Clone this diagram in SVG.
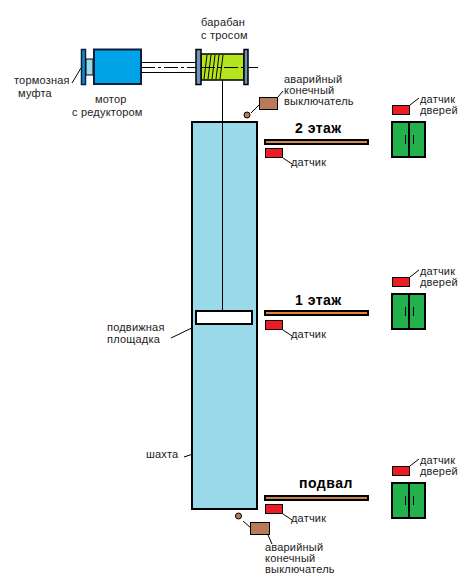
<svg xmlns="http://www.w3.org/2000/svg" width="473" height="588" viewBox="0 0 473 588">
<defs>
<style>
text{font-family:"Liberation Sans",Arial,sans-serif;font-size:11px;letter-spacing:.2px;fill:#222}
.h{font-size:14px;font-weight:bold;letter-spacing:.5px;fill:#000}
.k{stroke:#000;stroke-width:2}
.t{fill:none;stroke:#000;stroke-width:1}
.red{fill:#ed1c24;stroke:#000;stroke-width:1}
.bar{stroke:#000;stroke-width:2}
.door{fill:#22b14c;stroke:#000;stroke-width:2}
.sw{fill:#b97a57;stroke:#000;stroke-width:1}
</style>
<g id="floorsensor">
<rect class="red" x="265.500" y="148.500" width="17" height="9"/>
<path class="t" d="M283 158L292 164"/>
<text x="291" y="166">датчик</text>
</g>
<g id="doorset">
<rect class="red" x="392.500" y="105.500" width="17" height="9"/>
<path class="t" d="M410 105L419 98"/>
<text x="420" y="103">датчик</text>
<text x="420" y="114">дверей</text>
<rect class="door" x="392" y="122" width="33" height="35"/>
<path class="k" d="M409 122V157"/>
<path class="t" d="M405.500 135V144M413.500 135V144"/>
</g>
</defs>
<rect width="473" height="588" fill="#fff"/>
<g id="connectors">
<path class="t" d="M141 62.500H196M141 72.500H196"/>
<path class="t" stroke-dasharray="14 3 3 3" d="M141 67.500H258"/>
<path class="t" d="M222.500 80V122"/>
<path class="t" d="M72 83L81 68"/>
<path class="t" d="M251 113L259 105"/>
<path class="t" d="M278 97L283 91"/>
<path class="t" d="M171 338L196 326"/>
<path class="t" d="M184 457L223 444"/>
<path class="t" d="M243 521L251 528"/>
<path class="t" d="M268 535L272 544"/>
</g>
<g id="brake"><rect x="81.500" y="49.500" width="4" height="35" fill="#0e8fd0" stroke="#0b1f3a" stroke-width="1.500"/><rect x="86" y="59" width="7" height="16" fill="#99d9ea" stroke="#000"/></g>
<g id="motor"><rect x="94" y="49.500" width="47" height="34.500" fill="#00a2e8" stroke="#0b1f3a" stroke-width="2"/></g>
<g id="drum">
<rect x="201" y="54" width="43" height="26" fill="#b5e61d" stroke="#000" stroke-width="1.500"/>
<path class="t" d="M204 79L207 55M208 79L211 55M212 79L215 55M216 79L219 55M220 79L223 55"/>
<path class="t" stroke-dasharray="14 3 3 3" d="M201 67.500H258"/>
<rect x="196" y="49.500" width="5" height="35" fill="#7092be" stroke="#000" stroke-width="1.500"/>
<rect x="244" y="49.500" width="4" height="35" fill="#7092be" stroke="#000" stroke-width="1.500"/>
</g>
<g id="shaft">
<rect class="k" x="192" y="122" width="65" height="387" fill="#99d9ea"/>
<path class="t" d="M222.500 122V311"/>
</g>
<g id="platform"><rect class="k" x="196" y="311" width="56" height="13" fill="#fff"/></g>
<g id="floor2"><rect class="bar" x="265" y="140" width="103" height="4" fill="#d08a55"/><use href="#floorsensor"/><use href="#doorset"/><text class="h" x="295" y="133">2 этаж</text></g>
<g id="floor1"><rect class="bar" x="265" y="311" width="103" height="4" fill="#ee8033"/><use href="#floorsensor" y="172"/><use href="#doorset" y="172"/><text class="h" x="295" y="305">1 этаж</text></g>
<g id="basement"><rect class="bar" x="265" y="496" width="103" height="4" fill="#c8824a"/><use href="#floorsensor" y="356"/><use href="#doorset" y="361"/><text class="h" x="299" y="488">подвал</text></g>
<g id="topswitch">
<circle cx="247" cy="115" r="3" fill="#b97a57" stroke="#000"/>
<rect class="sw" x="259.500" y="97.500" width="18" height="12"/>
<text x="284" y="83">аварийный</text><text x="284" y="94">конечный</text><text x="284" y="105">выключатель</text>
</g>
<g id="bottomswitch">
<circle cx="238.500" cy="516" r="3" fill="#b97a57" stroke="#000"/>
<rect class="sw" x="250.500" y="522.500" width="19" height="12"/>
<text x="265" y="551">аварийный</text><text x="265" y="562">конечный</text><text x="265" y="573">выключатель</text>
</g>
<g id="labels">
<text x="14" y="84">тормозная</text><text x="18" y="97">муфта</text>
<text x="95" y="103">мотор</text><text x="72" y="116">с редуктором</text>
<text x="201" y="26">барабан</text><text x="201" y="39">с тросом</text>
<text x="107" y="331">подвижная</text><text x="107" y="343">площадка</text>
<text x="146" y="458">шахта</text>
</g>
</svg>
